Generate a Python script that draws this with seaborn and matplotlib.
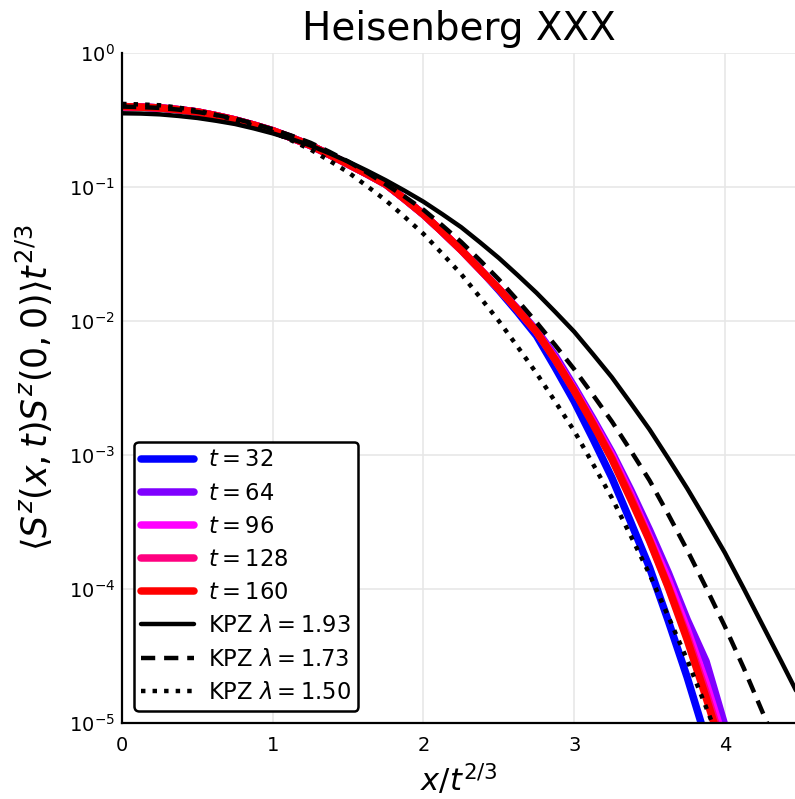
import numpy as np
import matplotlib
matplotlib.use("Agg")
import matplotlib.pyplot as plt
import seaborn as sns

# values, stored as log10 of the scaled correlation,
# sampled every 0.125 in x/t^(2/3)
x_step = 0.125

log10_kpz_193 = [-0.45, -0.452, -0.458, -0.470, -0.485, -0.506, -0.53, -0.563, -0.60,
                 -0.643, -0.69, -0.748, -0.81, -0.878, -0.95, -1.028, -1.11, -1.203,
                 -1.30, -1.413, -1.53, -1.658, -1.79, -1.933, -2.08, -2.248, -2.42,
                 -2.613, -2.81, -3.027, -3.25, -3.487, -3.73, -3.997, -4.27, -4.543, -4.82]
log10_kpz_173 = [-0.40, -0.404, -0.41, -0.423, -0.44, -0.463, -0.49, -0.527, -0.57,
                 -0.617, -0.67, -0.737, -0.81, -0.892, -0.98, -1.072, -1.17, -1.287,
                 -1.41, -1.547, -1.69, -1.847, -2.01, -2.182, -2.36, -2.552, -2.75,
                 -2.967, -3.19, -3.445, -3.71, -3.99, -4.28, -4.59, -4.92, -5.25, -5.6]
log10_kpz_150 = [-0.38, -0.384, -0.39, -0.408, -0.43, -0.463, -0.50, -0.543, -0.59,
                 -0.653, -0.72, -0.803, -0.89, -0.993, -1.10, -1.223, -1.35, -1.498,
                 -1.65, -1.823, -2.00, -2.193, -2.39, -2.603, -2.82, -3.068, -3.32,
                 -3.603, -3.89, -4.207, -4.53, -4.882, -5.24]

# tDMRG data: common part up to x = 2.375, then one tail per time from x = 2.5
log10_data_head = [-0.40, -0.404, -0.41, -0.423, -0.44, -0.468, -0.50, -0.538, -0.58,
                   -0.633, -0.69, -0.758, -0.83, -0.903, -0.98, -1.09, -1.205, -1.335,
                   -1.47, -1.615]
log10_t32 = [-1.77, -1.935, -2.11, -2.35, -2.60, -2.88, -3.17, -3.50, -3.84, -4.24,
             -4.66, -5.12]
log10_t64 = [-1.76, -1.91, -2.07, -2.26, -2.49, -2.73, -2.98, -3.26, -3.56, -3.88,
             -4.23, -4.54, -5.02, -5.6]
log10_t96 = [-1.76, -1.915, -2.08, -2.28, -2.51, -2.75, -3.00, -3.29, -3.61, -3.93,
             -4.30, -4.70, -5.15]
log10_t128 = [-1.76, -1.917, -2.08, -2.29, -2.52, -2.76, -3.02, -3.31, -3.63, -3.98,
              -4.35, -4.77, -5.22]
log10_t160 = [-1.76, -1.917, -2.08, -2.29, -2.52, -2.77, -3.03, -3.33, -3.64, -3.99,
              -4.38, -4.81, -5.26]

times = [32, 64, 96, 128, 160]
t_colors = ["#0000ff", "#7f00ff", "#ff00ff", "#ff0080", "#ff0000"]
lambdas = ["1.93", "1.73", "1.50"]

sns.set_style("white")
plt.rcParams["font.family"] = ["DejaVu Sans"]
plt.rcParams["mathtext.fontset"] = "dejavusans"
plt.rcParams["text.color"] = "black"
plt.rcParams["axes.labelcolor"] = "black"

fig = plt.figure(figsize=(7.95, 7.99), dpi=100)
ax = fig.add_axes([0.1535, 0.0951, 0.8465, 0.8386])

tails = [log10_t32, log10_t64, log10_t96, log10_t128, log10_t160]
for tail, t, c in zip(tails, times, t_colors):
    logs = np.array(log10_data_head + tail)
    xs = np.arange(len(logs)) * x_step
    sns.lineplot(x=xs, y=10.0 ** logs, ax=ax, color=c, lw=5.4, sort=False,
                 estimator=None, label=rf"$t = {t}$")

styles = [None, (3.2, 2.0), (1.0, 1.6)]
for logs, lam, dash in zip([log10_kpz_193, log10_kpz_173, log10_kpz_150], lambdas, styles):
    logs = np.array(logs)
    xs = np.arange(len(logs)) * x_step
    sns.lineplot(x=xs, y=10.0 ** logs, ax=ax, color="black", lw=3.2, sort=False,
                 estimator=None, label=rf"KPZ $\lambda = {lam}$")
    if dash is not None:
        ax.lines[-1].set_dashes(dash)

ax.set_yscale("log")
ax.set_xlim(0, 4.465)
ax.set_ylim(1e-5, 1)
ax.set_xticks([0, 1, 2, 3, 4])
ax.set_yticks([1e-5, 1e-4, 1e-3, 1e-2, 1e-1, 1])
ax.minorticks_off()
ax.grid(True, color="#e6e6e6", lw=1.1)
ax.set_axisbelow(True)

for s in ["top", "right"]:
    ax.spines[s].set_visible(False)
for s in ["left", "bottom"]:
    ax.spines[s].set_color("black")
    ax.spines[s].set_linewidth(1.6)
ax.tick_params(direction="in", length=6, width=1.3, labelsize=14, colors="black")
ax.tick_params(axis="x", pad=9)
ax.tick_params(axis="y", pad=5)

ax.set_title("Heisenberg XXX", fontsize=28, pad=9)
ax.set_xlabel(r"$x/t^{2/3}$", fontsize=22, labelpad=5)
ax.set_ylabel(r"$\langle S^z(x,t)S^z(0,0)\rangle t^{2/3}$", fontsize=25, labelpad=10)

leg = ax.legend(loc="lower left", fontsize=16.3, handlelength=2.35, labelspacing=0.45,
                borderaxespad=0.55, frameon=True, fancybox=True, framealpha=1,
                edgecolor="black", borderpad=0.3, handletextpad=0.6)
leg.get_frame().set_linewidth(1.8)

fig.savefig("out.png", dpi=100)
